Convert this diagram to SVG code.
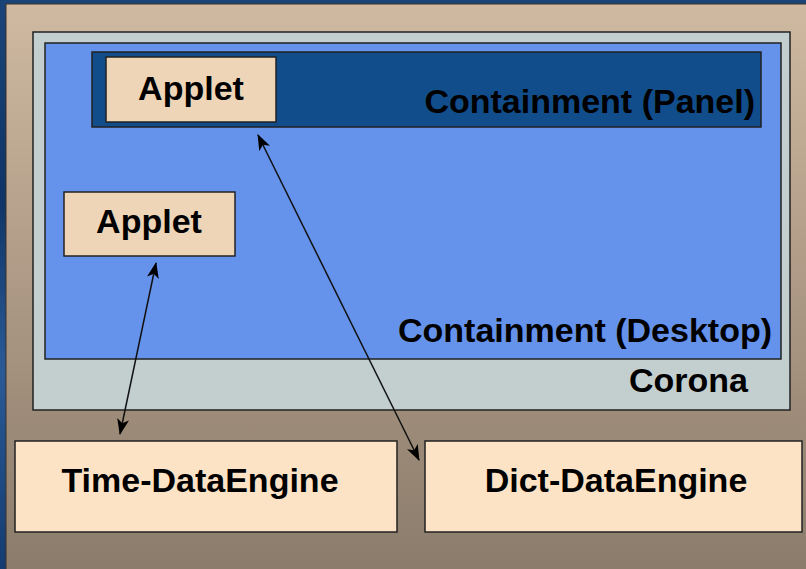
<svg xmlns="http://www.w3.org/2000/svg" width="806" height="569" viewBox="0 0 806 569">
  <defs>
    <linearGradient id="bg" x1="0" y1="0" x2="0" y2="1">
      <stop offset="0" stop-color="#cfb9a1"/>
      <stop offset="0.5" stop-color="#ad9985"/>
      <stop offset="1" stop-color="#8b7c6b"/>
    </linearGradient>
    <linearGradient id="edge" x1="0" y1="0" x2="0" y2="1">
      <stop offset="0" stop-color="#1a4478"/>
      <stop offset="0.35" stop-color="#0f3566"/>
      <stop offset="0.65" stop-color="#2a5a96"/>
      <stop offset="1" stop-color="#143c70"/>
    </linearGradient>
    <marker id="head" viewBox="0 0 16 12" refX="15" refY="6" markerWidth="16" markerHeight="12" markerUnits="userSpaceOnUse" orient="auto-start-reverse">
      <path d="M0,0 L16,6 L0,12 L4,6 Z" fill="#000"/>
    </marker>
  </defs>
  <style>
    .box { stroke: #222; stroke-width: 1.5; }
    .lbl { font-family: "Liberation Sans", Arial, sans-serif; font-weight: bold; font-size: 34px; fill: #000; }
    .link { fill: none; stroke: #111; stroke-width: 1.5; marker-start: url(#head); marker-end: url(#head); }
  </style>

  <!-- window edges and backdrop -->
  <rect x="0" y="0" width="806" height="569" fill="url(#edge)"/>
  <rect x="6" y="4" width="801" height="566" fill="url(#bg)" stroke="#3a3028" stroke-width="1"/>

  <g id="corona">
    <rect class="box" x="33" y="32" width="757" height="378" fill="#c3cfcf"/>
    <text class="lbl" x="748" y="392" text-anchor="end">Corona</text>
  </g>

  <g id="desktop">
    <rect class="box" x="45" y="43" width="736" height="316" fill="#6592ea"/>
    <text class="lbl" x="772" y="342" text-anchor="end">Containment (Desktop)</text>
  </g>

  <g id="panel">
    <rect class="box" x="92" y="52" width="669" height="75" fill="#114d8b"/>
    <text class="lbl" x="755" y="113" text-anchor="end">Containment (Panel)</text>
  </g>

  <g id="panel-applet">
    <rect class="box" x="106" y="57" width="170" height="65" fill="#efd5b8"/>
    <text class="lbl" x="191" y="100" text-anchor="middle">Applet</text>
  </g>

  <g id="desktop-applet">
    <rect class="box" x="64" y="192" width="171" height="64" fill="#efd5b8"/>
    <text class="lbl" x="149" y="233" text-anchor="middle">Applet</text>
  </g>

  <g id="time-engine">
    <rect class="box" x="15" y="441" width="382" height="91" fill="#fde3c6"/>
    <text class="lbl" x="200" y="492" text-anchor="middle">Time-DataEngine</text>
  </g>

  <g id="dict-engine">
    <rect class="box" x="425" y="441" width="377" height="91" fill="#fde3c6"/>
    <text class="lbl" x="616" y="492" text-anchor="middle">Dict-DataEngine</text>
  </g>

  <g id="connectors">
    <path class="link" d="M156,263 L120,434"/>
    <path class="link" d="M258,135 L419,460"/>
  </g>
</svg>
